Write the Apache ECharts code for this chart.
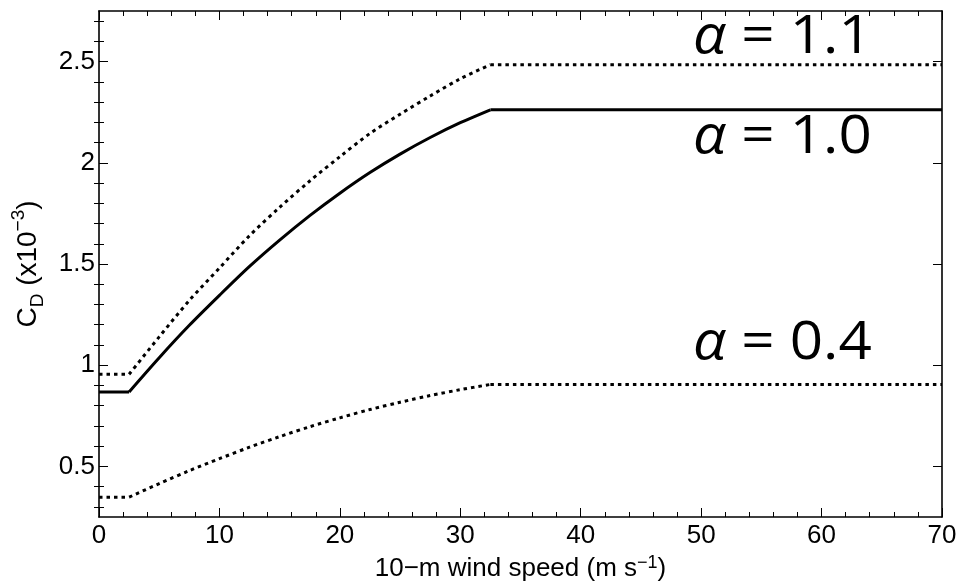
<!DOCTYPE html>
<html><head><meta charset="utf-8">
<script src="https://cdn.jsdelivr.net/npm/echarts@6/dist/echarts.min.js"></script>
<style>html,body{margin:0;padding:0;background:#fff}#c{width:960px;height:584px}</style>
</head><body><div id="c"></div>
<script>
// ---- data ----
// flat low-wind part, rising part, flat high-wind part (wind speed in m/s, C_D in 1e-3)
const windLow = [0, 2.5];
const windRise = [2.5, 5, 7.5, 10, 12.5, 15, 17.5, 20, 22.5, 25, 27.5, 30, 32.5];
const windHigh = [32.5, 70];
const cdAlpha11Rise = [0.955, 1.14, 1.32, 1.48, 1.64, 1.78, 1.91, 2.03, 2.145, 2.24, 2.33, 2.415, 2.485];
const cdAlpha10Rise = [0.868, 1.037, 1.197, 1.345, 1.488, 1.618, 1.739, 1.85, 1.952, 2.043, 2.125, 2.198, 2.262];
const cdAlpha04Rise = [0.348, 0.415, 0.479, 0.538, 0.595, 0.647, 0.696, 0.74, 0.781, 0.817, 0.85, 0.879, 0.905];
const cdAlpha11Flat = [0.955, 2.485];
const cdAlpha10Flat = [0.868, 2.262];
const cdAlpha04Flat = [0.348, 0.905];
const yMajorTicks = [0.5, 1, 1.5, 2, 2.5];
const yMinorTicks = [0.3, 0.4, 0.6, 0.7, 0.8, 0.9, 1.1, 1.2, 1.3, 1.4, 1.6, 1.7, 1.8, 1.9, 2.1, 2.2, 2.3, 2.4, 2.6, 2.7];
const curveLabels = ['1.1', '1.0', '0.4'];

const FONT = '"Liberation Sans", Arial, Helvetica, sans-serif';
const black = '#000';

function pairs(xs, ys) { return xs.map((x, i) => [x, ys[i]]); }
function flatData(flat) {
  return pairs(windLow, [flat[0], flat[0]]).concat([[null, null]], pairs(windHigh, [flat[1], flat[1]]));
}

const chart = echarts.init(document.getElementById('c'), null, { renderer: 'canvas' });

const yBase = { type: 'value', min: 0.25, max: 2.75, gridIndex: 0, splitLine: { show: false } };
const dotted = { color: black, width: 3, type: [3.5, 4], cap: 'butt' };
const solid = { color: black, width: 3, type: 'solid' };

function curve(name, rise, flat, style) {
  return [
    { name: name, type: 'line', data: pairs(windRise, rise), showSymbol: false, symbol: 'none',
      smooth: 0.3, lineStyle: style },
    { name: name, type: 'line', data: flatData(flat), showSymbol: false, symbol: 'none',
      connectNulls: false, lineStyle: style }
  ];
}

const option = {
  backgroundColor: '#fff',
  animation: false,
  grid: { left: 99, right: 18, top: 11, bottom: 67, containLabel: false, outerBoundsMode: 'none' },
  xAxis: [
    {
      type: 'value', min: 0, max: 70, interval: 10, position: 'bottom',
      axisLine: { show: true, onZero: false, lineStyle: { color: black, width: 1.6 } },
      axisTick: { show: true, inside: true, length: 9, lineStyle: { color: black, width: 1 } },
      minorTick: { show: true, splitNumber: 5, length: 5, lineStyle: { color: black, width: 1 } },
      axisLabel: { color: black, fontSize: 26, fontFamily: FONT, margin: 6 },
      splitLine: { show: false },
      name: '{a|10−m wind speed (m s}{s|−1}{a|)}',
      nameLocation: 'middle', nameGap: 35,
      nameTextStyle: {
        color: black, fontFamily: FONT, fontSize: 26,
        rich: {
          a: { fontSize: 26, fontFamily: FONT, color: black, lineHeight: 30, verticalAlign: 'middle' },
          s: { fontSize: 18, fontFamily: FONT, color: black, lineHeight: 18, verticalAlign: 'top' }
        }
      }
    },
    {
      type: 'value', min: 0, max: 70, interval: 10, position: 'top',
      axisLine: { show: true, onZero: false, lineStyle: { color: black, width: 1.6 } },
      axisTick: { show: true, inside: true, length: 9, lineStyle: { color: black, width: 1 } },
      minorTick: { show: true, splitNumber: 5, length: 5, lineStyle: { color: black, width: 1 } },
      axisLabel: { show: false }, splitLine: { show: false }
    }
  ],
  yAxis: [
    Object.assign({}, yBase, {
      position: 'left',
      axisLine: { show: true, onZero: false, lineStyle: { color: black, width: 1.6 } },
      axisTick: { show: true, inside: true, length: 9, customValues: yMajorTicks, lineStyle: { color: black, width: 1 } },
      axisLabel: { show: true, customValues: yMajorTicks, color: black, fontSize: 26, fontFamily: FONT, margin: 4 },
      name: '{a|C}{b|D}{a| (x10}{c|−3}{a|)}',
      nameLocation: 'middle', nameGap: 52, nameRotate: 90,
      nameTextStyle: {
        color: black, fontFamily: FONT, fontSize: 28,
        rich: {
          a: { fontSize: 28, fontFamily: FONT, color: black, lineHeight: 38, verticalAlign: 'middle' },
          b: { fontSize: 19, fontFamily: FONT, color: black, lineHeight: 19, verticalAlign: 'bottom' },
          c: { fontSize: 19, fontFamily: FONT, color: black, lineHeight: 19, verticalAlign: 'top' }
        }
      }
    }),
    Object.assign({}, yBase, {
      position: 'left',
      axisLine: { show: false },
      axisTick: { show: true, inside: true, length: 5, customValues: yMinorTicks, lineStyle: { color: black, width: 1 } },
      axisLabel: { show: false }
    }),
    Object.assign({}, yBase, {
      position: 'right',
      axisLine: { show: true, onZero: false, lineStyle: { color: black, width: 1.6 } },
      axisTick: { show: true, inside: true, length: 9, customValues: yMajorTicks, lineStyle: { color: black, width: 1 } },
      axisLabel: { show: false }
    }),
    Object.assign({}, yBase, {
      position: 'right',
      axisLine: { show: false },
      axisTick: { show: true, inside: true, length: 5, customValues: yMinorTicks, lineStyle: { color: black, width: 1 } },
      axisLabel: { show: false }
    })
  ],
  series: [].concat(
    curve('alpha 1.1', cdAlpha11Rise, cdAlpha11Flat, dotted),
    curve('alpha 1.0', cdAlpha10Rise, cdAlpha10Flat, solid),
    curve('alpha 0.4', cdAlpha04Rise, cdAlpha04Flat, dotted)
  ),
  graphic: [37.5, 138, 344].map((y, i) => ({
    type: 'text', x: 693, y: y, z: 100, scaleX: 1.1,
    style: {
      text: '{g|α} = ' + curveLabels[i],
      fill: black, font: '53px "Open Sans", sans-serif', verticalAlign: 'middle', align: 'left',
      rich: { g: { fontSize: 53, fontFamily: '"Open Sans", sans-serif', fontStyle: 'italic', fill: black } }
    }
  }))
};
chart.setOption(option);
</script>
</body></html>
